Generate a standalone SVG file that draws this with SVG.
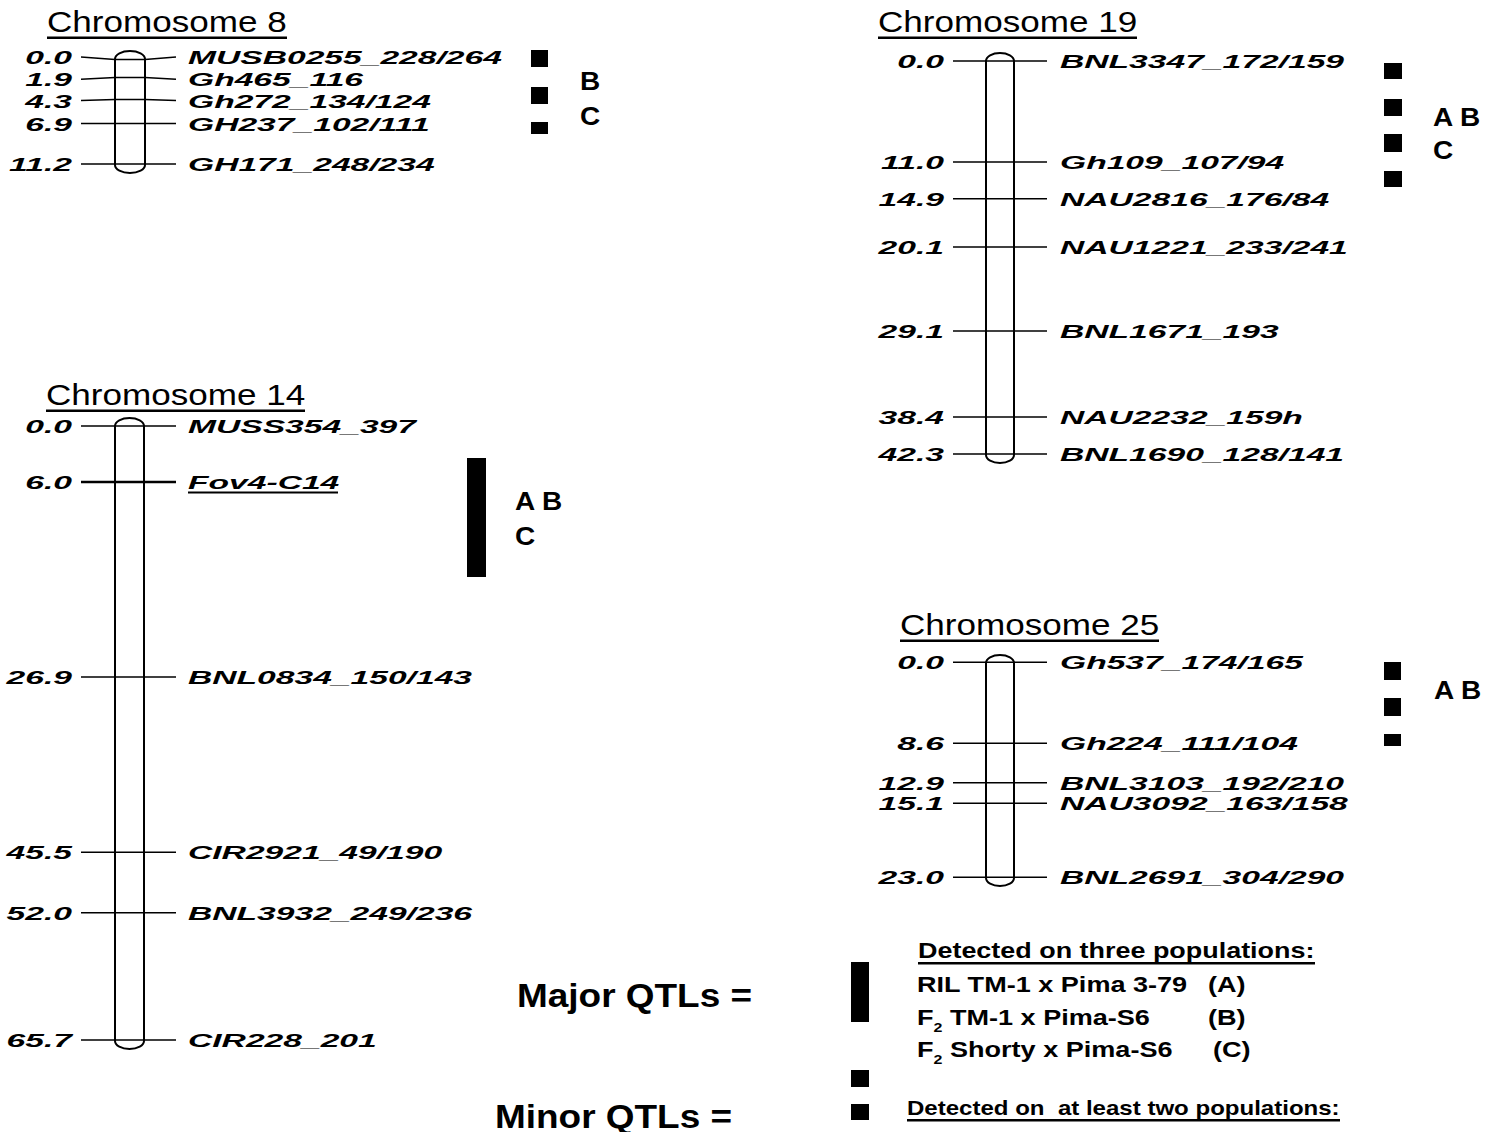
<svg xmlns="http://www.w3.org/2000/svg" width="1490" height="1132" viewBox="0 0 1490 1132">
<style>
text{font-family:"Liberation Sans",Arial,Helvetica,sans-serif;fill:#000}
.t{font-size:29px}
.m{font-size:19px;font-weight:bold;font-style:italic}
.n{font-size:19px;font-weight:bold;font-style:italic;text-anchor:end}
.q{font-size:25px;font-weight:bold}
.big{font-size:33px;font-weight:bold}
.lg{font-size:22px;font-weight:bold}
.rod{fill:#fff;stroke:#000;stroke-width:2}
.tick{fill:none;stroke:#000;stroke-width:1.5}
.blk{fill:#000}
</style>
<rect width="1490" height="1132" fill="#fff"/>

<g id="chr8">
<text class="t" transform="translate(47,32) scale(1.21,1)">Chromosome 8</text>
<rect class="blk" x="47" y="36.5" width="240" height="2.5"/>
<path class="rod" d="M115,59 A15,8 0 0 1 145,59 V165 A15,8 0 0 1 115,165 Z"/>
<text class="n" transform="translate(72,64) scale(1.77,1)">0.0</text>
<text class="n" transform="translate(72,86) scale(1.77,1)">1.9</text>
<text class="n" transform="translate(72,107.5) scale(1.77,1)">4.3</text>
<text class="n" transform="translate(72,130.5) scale(1.77,1)">6.9</text>
<text class="n" transform="translate(72,171) scale(1.77,1)">11.2</text>
<text class="m" transform="translate(188,64) scale(1.77,1)">MUSB0255_228/264</text>
<text class="m" transform="translate(188,86) scale(1.77,1)">Gh465_116</text>
<text class="m" transform="translate(188,107.5) scale(1.77,1)">Gh272_134/124</text>
<text class="m" transform="translate(188,130.5) scale(1.77,1)">GH237_102/111</text>
<text class="m" transform="translate(188,171) scale(1.77,1)">GH171_248/234</text>
<rect class="blk" x="531" y="50" width="17" height="17"/>
<rect class="blk" x="531" y="87" width="17" height="17"/>
<rect class="blk" x="531" y="122" width="17" height="12"/>
<text class="q" transform="translate(580,90) scale(1.12,1)">B</text>
<text class="q" transform="translate(580,125) scale(1.12,1)">C</text>
</g>

<g id="chr14">
<text class="t" transform="translate(46,405) scale(1.21,1)">Chromosome 14</text>
<rect class="blk" x="46" y="409.5" width="259" height="2.5"/>
<path class="rod" d="M115,426 A14.5,8 0 0 1 144,426 V1041 A14.5,8 0 0 1 115,1041 Z"/>
<text class="n" transform="translate(72,433) scale(1.77,1)">0.0</text>
<text class="n" transform="translate(72,489) scale(1.77,1)">6.0</text>
<text class="n" transform="translate(72,684) scale(1.77,1)">26.9</text>
<text class="n" transform="translate(72,859) scale(1.77,1)">45.5</text>
<text class="n" transform="translate(72,919.5) scale(1.77,1)">52.0</text>
<text class="n" transform="translate(72,1047) scale(1.77,1)">65.7</text>
<text class="m" transform="translate(188,433) scale(1.77,1)">MUSS354_397</text>
<text class="m" transform="translate(188,489) scale(1.77,1)">Fov4-C14</text>
<rect class="blk" x="188" y="491.5" width="150" height="2"/>
<text class="m" transform="translate(188,684) scale(1.77,1)">BNL0834_150/143</text>
<text class="m" transform="translate(188,859) scale(1.77,1)">CIR2921_49/190</text>
<text class="m" transform="translate(188,919.5) scale(1.77,1)">BNL3932_249/236</text>
<text class="m" transform="translate(188,1047) scale(1.77,1)">CIR228_201</text>
<rect class="blk" x="467" y="458" width="19" height="119"/>
<text class="q" transform="translate(515,510) scale(1.12,1)">A B</text>
<text class="q" transform="translate(515,545) scale(1.12,1)">C</text>
</g>

<g id="chr19">
<text class="t" transform="translate(878,32) scale(1.21,1)">Chromosome 19</text>
<rect class="blk" x="878" y="36.5" width="259" height="2.5"/>
<path class="rod" d="M986,61 A14,8 0 0 1 1014,61 V455 A14,8 0 0 1 986,455 Z"/>
<text class="n" transform="translate(944,68) scale(1.77,1)">0.0</text>
<text class="n" transform="translate(944,169) scale(1.77,1)">11.0</text>
<text class="n" transform="translate(944,205.7) scale(1.77,1)">14.9</text>
<text class="n" transform="translate(944,254) scale(1.77,1)">20.1</text>
<text class="n" transform="translate(944,338) scale(1.77,1)">29.1</text>
<text class="n" transform="translate(944,424) scale(1.77,1)">38.4</text>
<text class="n" transform="translate(944,461) scale(1.77,1)">42.3</text>
<text class="m" transform="translate(1060,68) scale(1.77,1)">BNL3347_172/159</text>
<text class="m" transform="translate(1060,169) scale(1.77,1)">Gh109_107/94</text>
<text class="m" transform="translate(1060,205.7) scale(1.77,1)">NAU2816_176/84</text>
<text class="m" transform="translate(1060,254) scale(1.77,1)">NAU1221_233/241</text>
<text class="m" transform="translate(1060,338) scale(1.77,1)">BNL1671_193</text>
<text class="m" transform="translate(1060,424) scale(1.77,1)">NAU2232_159h</text>
<text class="m" transform="translate(1060,461) scale(1.77,1)">BNL1690_128/141</text>
<rect class="blk" x="1384" y="63" width="18" height="16"/>
<rect class="blk" x="1384" y="99" width="18" height="17"/>
<rect class="blk" x="1384" y="134" width="18" height="18"/>
<rect class="blk" x="1384" y="171" width="18" height="16"/>
<text class="q" transform="translate(1433,126) scale(1.12,1)">A B</text>
<text class="q" transform="translate(1433,159) scale(1.12,1)">C</text>
</g>

<g id="chr25">
<text class="t" transform="translate(900,635) scale(1.21,1)">Chromosome 25</text>
<rect class="blk" x="900" y="639.5" width="259" height="2.5"/>
<path class="rod" d="M986,663 A14,8 0 0 1 1014,663 V878 A14,8 0 0 1 986,878 Z"/>
<text class="n" transform="translate(944,669.3) scale(1.77,1)">0.0</text>
<text class="n" transform="translate(944,750.3) scale(1.77,1)">8.6</text>
<text class="n" transform="translate(944,789.7) scale(1.77,1)">12.9</text>
<text class="n" transform="translate(944,810.3) scale(1.77,1)">15.1</text>
<text class="n" transform="translate(944,884.3) scale(1.77,1)">23.0</text>
<text class="m" transform="translate(1060,669.3) scale(1.77,1)">Gh537_174/165</text>
<text class="m" transform="translate(1060,750.3) scale(1.77,1)">Gh224_111/104</text>
<text class="m" transform="translate(1060,789.7) scale(1.77,1)">BNL3103_192/210</text>
<text class="m" transform="translate(1060,810.3) scale(1.77,1)">NAU3092_163/158</text>
<text class="m" transform="translate(1060,884.3) scale(1.77,1)">BNL2691_304/290</text>
<rect class="blk" x="1384" y="662" width="17" height="18"/>
<rect class="blk" x="1384" y="698" width="17" height="18"/>
<rect class="blk" x="1384" y="734" width="17" height="12"/>
<text class="q" transform="translate(1434,699) scale(1.12,1)">A B</text>
</g>

<g id="connectors">
<polyline class="tick" points="81,57 115,59.5 145,59.5 176,57"/>
<polyline class="tick" points="81,79.3 115,77.5 145,77.5 176,79.3"/>
<polyline class="tick" points="81,100.5 115,99.5 145,99.5 176,100.5"/>
<line class="tick" x1="81" y1="123.5" x2="176" y2="123.5"/>
<line class="tick" x1="81" y1="164" x2="176" y2="164"/>

<line class="tick" x1="81" y1="426" x2="176" y2="426"/>
<line class="tick" x1="81" y1="482" x2="176" y2="482" style="stroke-width:2.5"/>
<line class="tick" x1="81" y1="677" x2="176" y2="677"/>
<line class="tick" x1="81" y1="852.3" x2="176" y2="852.3"/>
<line class="tick" x1="81" y1="912.7" x2="176" y2="912.7"/>
<line class="tick" x1="81" y1="1040" x2="176" y2="1040"/>

<line class="tick" x1="953" y1="61" x2="1047" y2="61"/>
<line class="tick" x1="953" y1="162" x2="1047" y2="162"/>
<line class="tick" x1="953" y1="198.7" x2="1047" y2="198.7"/>
<line class="tick" x1="953" y1="247" x2="1047" y2="247"/>
<line class="tick" x1="953" y1="331" x2="1047" y2="331"/>
<line class="tick" x1="953" y1="417" x2="1047" y2="417"/>
<line class="tick" x1="953" y1="454" x2="1047" y2="454"/>

<line class="tick" x1="953" y1="662.3" x2="1047" y2="662.3"/>
<line class="tick" x1="953" y1="743.3" x2="1047" y2="743.3"/>
<line class="tick" x1="953" y1="782.7" x2="1047" y2="782.7"/>
<line class="tick" x1="953" y1="803.3" x2="1047" y2="803.3"/>
<line class="tick" x1="953" y1="877.3" x2="1047" y2="877.3"/>
</g>

<g id="legend">
<text class="big" transform="translate(517,1007) scale(1.12,1)">Major QTLs =</text>
<text class="big" transform="translate(495,1128) scale(1.12,1)">Minor QTLs =</text>
<rect class="blk" x="851" y="962" width="18" height="60"/>
<rect class="blk" x="851" y="1070" width="18" height="17"/>
<rect class="blk" x="851" y="1104" width="18" height="16"/>
<text class="lg" transform="translate(918,958) scale(1.225,1)">Detected on three populations:</text>
<rect class="blk" x="918" y="962" width="397" height="2.5"/>
<text class="lg" transform="translate(917,992) scale(1.23,1)">RIL TM-1 x Pima 3-79</text>
<text class="lg" transform="translate(1208,992) scale(1.23,1)">(A)</text>
<text class="lg" transform="translate(917,1025) scale(1.23,1)">F<tspan font-size="13" dy="7">2</tspan><tspan dy="-7"> TM-1 x Pima-S6</tspan></text>
<text class="lg" transform="translate(1208,1025) scale(1.23,1)">(B)</text>
<text class="lg" transform="translate(917,1057) scale(1.23,1)">F<tspan font-size="13" dy="7">2</tspan><tspan dy="-7"> Shorty x Pima-S6</tspan></text>
<text class="lg" transform="translate(1213,1057) scale(1.23,1)">(C)</text>
<text class="lg" xml:space="preserve" style="font-size:21px;white-space:pre" transform="translate(907,1115) scale(1.145,1)">Detected on  at least two populations:</text>
<rect class="blk" x="907" y="1119" width="433" height="2.5"/>
</g>
</svg>
